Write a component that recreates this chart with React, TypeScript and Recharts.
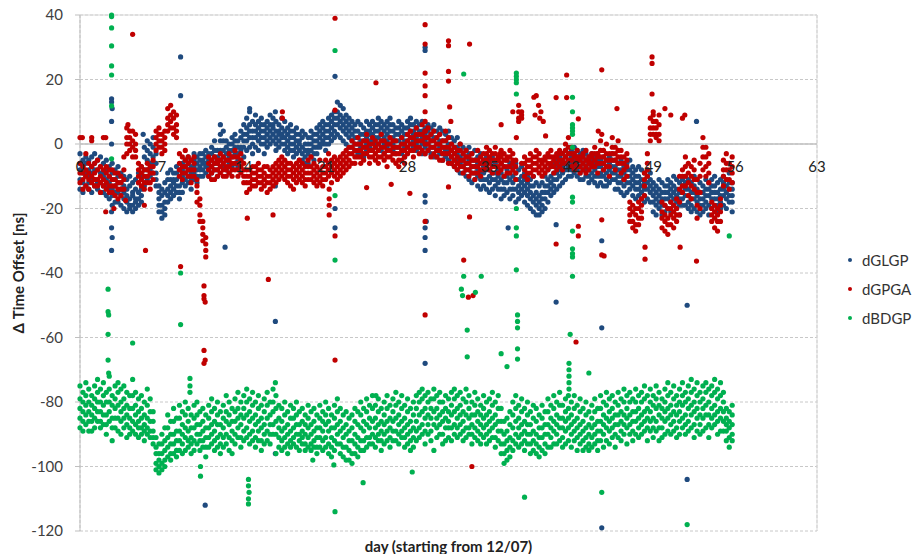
import React from "react";
import {
  ScatterChart,
  Scatter,
  XAxis,
  YAxis,
  CartesianGrid,
  ReferenceLine,
} from "recharts";

const FONT = "Lato, 'Open Sans', sans-serif";

const xTicks = [0, 7, 14, 21, 28, 35, 42, 49, 56, 63];
const yTicks = [-120, -100, -80, -60, -40, -20, 0, 20, 40];
const seriesNames = ["dGLGP", "dGPGA", "dBDGP"];
const seriesColors = ["#1f4a7e", "#c00000", "#00b050"];

// dGLGP: [day, values...], quarter-day steps
const glgpRows = [
  [0, -3, -6, -8, -11, -14], [0.25, -5, -7, -9, -12, -15], [0.5, -4, -6, -9, -10, -13], [0.75, -5, -8, -10, -12, -14],
  [1, -4, -7, -9, -11, -15], [1.25, -3, -6, -8, -11, -13], [1.5, -5, -8, -11, -12, -14], [1.75, -4, -7, -9, -12, -15],
  [2, -6, -9, -10, -13, -15], [2.25, -5, -8, -11, -13, -16], [2.5, -7, -10, -12, -14, -17], [2.75, -6, -9, -11, -14, -16],
  [3, -8, -11, -13, -15, -18], [3.25, -7, -10, -12, -15, -18], [3.5, -9, -12, -14, -16, -19], [3.75, -10, -13, -15, -17, -20],
  [4, -11, -14, -16, -18, -21], [4.25, -10, -13, -17, -19, -20], [4.5, -12, -15, -16, -19, -21], [4.75, -11, -14, -17, -18, -20],
  [5, -9, -12, -15, -17, -19], [5.25, -7, -10, -14, -16, -18], [5.5, -1, -4, -8, -10, -13], [5.75, 1, -2, -5, -8, -11],
  [6, 0, -3, -6, -8, -10], [6.25, 2, -1, -4, -6, -9], [6.5, -3, -6, -9, -11, -13], [6.75, -13, -15, -17, -19, -21],
  [7, -14, -16, -19, -21, -23], [7.25, -12, -15, -18, -20, -22], [7.5, -9, -11, -14, -16, -18], [7.75, -8, -11, -13, -15, -17],
  [8, -9, -11, -12, -14, -16], [8.25, -7, -9, -11, -13, -15], [8.5, -8, -10, -13, -15, -17], [8.75, -6, -8, -10, -12, -15],
  [9, -5, -7, -9, -11, -13], [9.25, -4, -6, -8, -10, -12], [9.5, -5, -7, -9, -11, -14], [9.75, -3, -5, -7, -9, -11],
  [10, -4, -6, -8, -10, -12], [10.25, -3, -5, -7, -8, -10], [10.5, -3, -5, -6, -8, -10], [10.75, -2, -4, -6, -7, -9],
  [11, -3, -5, -7, -8, -10], [11.25, -1, -3, -5, -7, -9], [11.5, 1, -2, -4, -6, -8], [11.75, -2, -4, -6, -8, -10],
  [12, 6, 3, 1, -2, -5], [12.25, 4, 1, -2, -4, -7], [12.5, 1, -1, -3, -5, -8], [12.75, 0, -2, -4, -6, -9],
  [13, 2, 0, -2, -4, -7], [13.25, 3, 1, -1, -3, -6], [13.5, 1, -1, -3, -5, -7], [13.75, 4, 2, -1, -2, -5],
  [14, 6, 3, 1, -1, -4], [14.25, 8, 5, 3, 1, -2], [14.5, 10, 6, 4, 2, -1], [14.75, 7, 4, 2, 0, -3],
  [15, 9, 6, 4, 2, -1], [15.25, 7, 5, 3, 1, -2], [15.5, 8, 6, 4, 2, 0], [15.75, 6, 4, 2, 0, -3],
  [16, 7, 5, 3, 1, -1], [16.25, 9, 6, 4, 2, 0], [16.5, 8, 6, 5, 3, 1], [16.75, 7, 4, 2, 0, -2],
  [17, 6, 4, 3, 1, -1], [17.25, 8, 5, 3, 2, 0], [17.5, 7, 4, 2, 0, -2], [17.75, 5, 3, 1, -1, -3],
  [18, 6, 4, 2, 0, -2], [18.25, 4, 2, 0, -2, -4], [18.5, 5, 3, 1, -1, -3], [18.75, 3, 1, 0, -2, -5],
  [19, 4, 2, -1, -3, -5], [19.25, 3, 0, -2, -4, -6], [19.5, 2, 0, -2, -3, -6], [19.75, 4, 2, 0, -2, -4],
  [20, 3, 1, -1, -3, -5], [20.25, 5, 3, 1, -1, -3], [20.5, 6, 4, 2, 0, -1], [20.75, 7, 5, 3, 1, 0],
  [21, 6, 4, 2, 0, -2], [21.25, 8, 6, 4, 2, 0], [21.5, 9, 7, 5, 3, 1], [21.75, 10, 8, 6, 4, 2],
  [22, 13, 10, 8, 6, 3], [22.25, 12, 9, 7, 5, 2], [22.5, 11, 8, 6, 4, 1], [22.75, 9, 7, 5, 3, 0],
  [23, 8, 6, 4, 2, -1], [23.25, 7, 5, 3, 1, -1], [23.5, 6, 4, 2, 0, -2], [23.75, 7, 4, 2, 0, -3],
  [24, 6, 3, 1, -1, -3], [24.25, 5, 3, 1, -1, -4], [24.5, 7, 4, 2, 0, -2], [24.75, 6, 4, 3, 1, -1],
  [25, 7, 5, 3, 1, -2], [25.25, 6, 4, 2, 0, -1], [25.5, 8, 6, 4, 2, 0], [25.75, 7, 5, 3, 1, -2],
  [26, 6, 4, 2, 0, -3], [26.25, 7, 5, 3, 1, -1], [26.5, 8, 6, 4, 2, 0], [26.75, 6, 4, 2, 0, -2],
  [27, 5, 3, 1, -1, -3], [27.25, 7, 5, 3, 1, -1], [27.5, 6, 4, 2, 0, -3], [27.75, 5, 3, 1, -1, -4],
  [28, 7, 5, 3, 1, -1], [28.25, 8, 6, 4, 2, 0], [28.5, 6, 4, 3, 1, -1], [28.75, 7, 5, 2, 0, -2],
  [29, 6, 4, 3, 1, -1], [29.25, 7, 4, 2, 0, -3], [29.5, 5, 3, 1, -1, -3], [29.75, 6, 4, 2, 0, -2],
  [30, 5, 3, 1, -1, -3], [30.25, 6, 4, 2, -1, -4], [30.5, 4, 2, 0, -2, -4], [30.75, 5, 3, 1, -1, -3],
  [31, 4, 1, -1, -3, -5], [31.25, 3, 1, -1, -2, -4], [31.5, 4, 2, 0, -2, -5], [31.75, 2, 0, -2, -4, -6],
  [32, 1, -1, -3, -5, -7], [32.25, 2, -1, -3, -5, -8], [32.5, 0, -2, -4, -6, -9], [32.75, -1, -3, -5, -7, -9],
  [33, -2, -4, -6, -8, -10], [33.25, -1, -3, -5, -8, -11], [33.5, -3, -5, -7, -9, -12], [33.75, -2, -5, -7, -9, -11],
  [34, -4, -6, -8, -10, -13], [34.25, -3, -6, -9, -11, -14], [34.5, -5, -7, -9, -11, -13], [34.75, -4, -6, -8, -11, -14],
  [35, -5, -8, -10, -12, -15], [35.25, -4, -7, -9, -11, -14], [35.5, -6, -9, -11, -13, -16], [35.75, -5, -8, -10, -12, -14],
  [36, -6, -9, -11, -14, -17], [36.25, -7, -10, -12, -14, -16], [36.5, -5, -8, -10, -12, -15], [36.75, -6, -9, -11, -14, -17],
  [37, -7, -10, -12, -14, -16], [37.25, -6, -9, -11, -14, -18], [37.5, -8, -11, -13, -15, -17], [37.75, -7, -10, -12, -14, -16],
  [38, -9, -11, -13, -15, -18], [38.25, -10, -12, -14, -16, -19], [38.5, -11, -13, -15, -17, -20], [38.75, -10, -13, -16, -18, -21],
  [39, -12, -15, -17, -19, -22], [39.25, -13, -16, -18, -20, -22], [39.5, -12, -15, -17, -19, -21], [39.75, -10, -13, -15, -17, -20],
  [40, -8, -11, -13, -15, -18], [40.25, -7, -10, -12, -14, -16], [40.5, -6, -9, -11, -13, -15], [40.75, -5, -7, -9, -11, -14],
  [41, -4, -6, -8, -10, -13], [41.25, -3, -5, -7, -9, -12], [41.5, -2, -4, -6, -8, -11], [41.75, -3, -5, -7, -8, -10],
  [42, -2, -4, -6, -8, -10], [42.25, -1, -3, -5, -7, -9], [42.5, -2, -4, -6, -8, -10], [42.75, -3, -5, -7, -9, -11],
  [43, -2, -4, -6, -8, -11], [43.25, -3, -5, -7, -8, -10], [43.5, -4, -6, -8, -10, -12], [43.75, -3, -5, -7, -9, -11],
  [44, -4, -6, -8, -10, -12], [44.25, -3, -5, -7, -10, -13], [44.5, -5, -7, -9, -10, -12], [44.75, -4, -6, -8, -10, -13],
  [45, -5, -7, -9, -11, -13], [45.25, -4, -6, -8, -10, -12], [45.5, -3, -5, -7, -9, -11], [45.75, -5, -7, -9, -11, -14],
  [46, -6, -8, -10, -12, -14], [46.25, -5, -8, -10, -12, -15], [46.5, -7, -9, -11, -13, -16], [46.75, -6, -8, -10, -12, -15],
  [47, -5, -8, -10, -12, -14], [47.25, -7, -9, -11, -13, -16], [47.5, -8, -10, -12, -14, -17], [47.75, -7, -10, -12, -14, -16],
  [48, -8, -11, -13, -15, -17], [48.25, -9, -12, -14, -16, -18], [48.5, -8, -10, -12, -14, -17], [48.75, -9, -11, -13, -15, -18],
  [49, -12, -14, -16, -18, -21], [49.25, -13, -15, -17, -19, -22], [49.5, -11, -14, -16, -18, -20], [49.75, -12, -15, -17, -19, -22],
  [50, -13, -15, -17, -19, -21], [50.25, -11, -13, -15, -17, -20], [50.5, -12, -14, -16, -18, -21], [50.75, -10, -13, -15, -17, -19],
  [51, -11, -14, -16, -18, -20], [51.25, -12, -15, -17, -19, -22], [51.5, -11, -13, -15, -17, -19], [51.75, -10, -12, -14, -16, -19],
  [52, -11, -14, -16, -18, -20], [52.25, -12, -15, -17, -19, -21], [52.5, -10, -13, -15, -17, -20], [52.75, -11, -14, -16, -18, -21],
  [53, -12, -15, -17, -19, -22], [53.25, -13, -15, -17, -19, -21], [53.5, -11, -14, -16, -18, -20], [53.75, -12, -14, -16, -19, -22],
  [54, -11, -13, -15, -17, -20], [54.25, -10, -13, -15, -17, -19], [54.5, -12, -15, -17, -19, -21], [54.75, -11, -14, -16, -18, -20],
  [55, -10, -12, -14, -16, -19], [55.25, -11, -13, -15, -17, -20], [55.5, -9, -12, -14, -16, -18], [55.75, -12, -14, -16, -18, -21],
];
const glgpOutliers = [
  [2.7, 14], [2.7, 13], [2.75, 11], [2.7, 7], [2.7, 0], [2.75, -19], [2.7, -21], [2.7, -26],
  [2.75, -29], [2.7, -33], [5.4, 3], [8.6, 27], [8.6, 15], [12.4, -32], [14.5, 11], [16.7, 10],
  [16.7, -13], [10.7, -112], [16.7, -55], [16.7, -96], [21.8, 21], [21.8, -20], [21.8, -26],
  [29.5, 29], [29.5, 30], [29.5, -16], [29.5, -18], [29.6, -24], [29.5, -26], [29.5, -29],
  [29.5, -33], [29.5, -68], [36.6, -26], [40.7, -25], [40.7, -49], [44.6, -30], [44.6, -57],
  [44.6, -119], [51.9, -50], [51.9, -104], [52.7, 7],
];

// dGPGA
const gpgaRows = [
  [0, 2, -6, -9, -12], [0.25, -7, -9, -11, -14], [0.5, -3, -8, -10, -13], [0.75, -6, -9, -11, -14],
  [1, 1, -7, -10, -12], [1.25, -6, -9, -11, -13], [1.5, -5, -8, -11, -13], [1.75, -7, -10, -12, -15],
  [2, 2, -8, -11, -13], [2.25, -7, -9, -12, -14], [2.5, -8, -10, -13, -15], [2.75, -8, -11, -13, -15],
  [3, -9, -11, -13, -16], [3.25, -9, -12, -14, -17], [3.5, -10, -12, -14, -16], [3.75, -4, -8, -11, -14],
  [4, 5, 2, 0, -3], [4.25, 4, 2, 0, -2], [4.5, 4, 1, -1, -4], [4.75, 3, 0, -2, -4],
  [5, -6, -8, -10, -12], [5.25, -7, -9, -11, -13], [5.5, -8, -10, -12, -14], [5.75, -6, -8, -10, -12],
  [6, -7, -9, -12, -14], [6.25, -5, -7, -9, -11], [6.5, 4, 2, 0, -2], [6.75, 5, 3, 1, -1],
  [7, 3, 1, -1, -3], [7.25, 4, 2, 0, -2], [7.5, 11, 8, 6, 4], [7.75, 12, 9, 7, 5],
  [8, 10, 8, 5, 3], [8.25, 9, 6, 4, 2], [8.5, -3, -6, -8, -10], [8.75, -4, -7, -9, -11],
  [9, -2, -5, -7, -9], [9.25, -4, -6, -8, -10], [9.5, -5, -8, -10, -12], [9.75, -4, -6, -8, -10],
  [10, -11, -13, -15, -18], [10.25, -17, -19, -22, -24], [10.5, -24, -26, -28, -30], [10.75, -29, -31, -33, -35],
  [11, -4, -6, -8, -10], [11.25, -5, -7, -9, -11], [11.5, -4, -6, -8, -11], [11.75, -5, -6, -8, -10],
  [12, -3, -5, -7, -9], [12.25, -4, -6, -8, -10], [12.5, -5, -7, -8, -10], [12.75, -3, -5, -7, -9],
  [13, -4, -6, -8, -10], [13.25, -2, -4, -6, -8], [13.5, -4, -6, -8, -10], [13.75, -3, -5, -7, -9],
  [14, -6, -8, -10, -12], [14.25, -8, -10, -12, -15], [14.5, -8, -10, -12, -14], [14.75, -7, -9, -11, -13],
  [15, -7, -9, -11, -13], [15.25, -6, -8, -10, -12], [15.5, -8, -10, -12, -14], [15.75, -7, -9, -11, -13],
  [16, -7, -10, -12, -15], [16.25, -8, -10, -12, -14], [16.5, -7, -9, -11, -13], [16.75, -6, -8, -10, -12],
  [17, -5, -7, -9, -11], [17.25, -4, -6, -8, -10], [17.5, -5, -7, -9, -11], [17.75, -6, -8, -10, -12],
  [18, -6, -8, -10, -13], [18.25, -7, -9, -11, -14], [18.5, -6, -8, -10, -12], [18.75, -5, -7, -9, -11],
  [19, -6, -8, -10, -12], [19.25, -7, -9, -11, -13], [19.5, -5, -7, -9, -11], [19.75, -4, -7, -9, -11],
  [20, -6, -8, -10, -12], [20.25, -7, -9, -11, -13], [20.5, -5, -8, -10, -12], [20.75, -7, -9, -11, -13],
  [21, -5, -7, -9, -11], [21.25, -3, -6, -8, -10], [21.5, -5, -7, -9, -12], [21.75, -4, -6, -8, -10],
  [22, -5, -7, -9, -11], [22.25, -4, -6, -8, -10], [22.5, -3, -5, -7, -9], [22.75, -2, -4, -6, -8],
  [23, -1, -3, -5, -7], [23.25, 1, -1, -3, -6], [23.5, 0, -2, -4, -6], [23.75, 2, 0, -2, -4],
  [24, 0, -2, -4, -6], [24.25, 1, -1, -3, -5], [24.5, 3, 1, -1, -3], [24.75, 0, -2, -4, -6],
  [25, 2, 0, -2, -4], [25.25, 1, -1, -3, -5], [25.5, 0, -2, -4, -6], [25.75, 3, 1, -1, -4],
  [26, 1, -1, -3, -5], [26.25, 0, -2, -4, -7], [26.5, 2, 0, -2, -4], [26.75, 1, -1, -3, -5],
  [27, 1, -1, -3, -6], [27.25, -1, -3, -5, -7], [27.5, 2, 0, -2, -5], [27.75, 0, -2, -4, -6],
  [28, 3, 1, -1, -3], [28.25, 4, 2, 0, -2], [28.5, 2, 0, -2, -4], [28.75, 5, 3, 1, -1],
  [29, 3, 1, -1, -3], [29.25, 6, 3, 1, -2], [29.5, 4, 2, 0, -3], [29.75, 5, 2, 0, -2],
  [30, 3, 1, -1, -4], [30.25, 4, 1, -1, -3], [30.5, 2, 0, -2, -4], [30.75, 3, 0, -2, -5],
  [31, 1, -1, -3, -5], [31.25, 4, 1, -1, -3], [31.5, 2, -1, -3, -6], [31.75, 0, -2, -4, -6],
  [32, -1, -3, -5, -7], [32.25, -2, -4, -6, -8], [32.5, 0, -2, -5, -7], [32.75, -3, -5, -7, -9],
  [33, -2, -4, -6, -8], [33.25, -4, -6, -8, -10], [33.5, -3, -5, -7, -9], [33.75, -5, -7, -9, -11],
  [34, -2, -5, -7, -9], [34.25, -4, -6, -8, -10], [34.5, -3, -5, -6, -8], [34.75, -1, -3, -5, -7],
  [35, -2, -4, -6, -8], [35.25, -3, -5, -7, -9], [35.5, -1, -3, -5, -7], [35.75, -4, -5, -7, -9],
  [36, -2, -4, -6, -8], [36.25, -3, -5, -7, -10], [36.5, -4, -5, -7, -9], [36.75, -2, -4, -7, -9],
  [37, -3, -5, -6, -8], [37.25, -5, -7, -9, -11], [37.5, 12, 10, 8, 7], [37.75, 10, 9, 8, -6],
  [38, -4, -6, -8, -10], [38.25, -5, -7, -9, -11], [38.5, -3, -5, -7, -9], [38.75, -4, -6, -8, -10],
  [39, -2, -4, -6, -8], [39.25, -3, -5, -7, -9], [39.5, -5, -6, -8, -10], [39.75, -4, -5, -7, -9],
  [40, -3, -4, -6, -8], [40.25, -2, -4, -6, -7], [40.5, -4, -5, -7, -9], [40.75, -3, -4, -6, -8],
  [41, -2, -3, -5, -7], [41.25, -3, -5, -6, -8], [41.5, 0, -2, -4, -6], [41.75, 2, -1, -3, -5],
  [42, -1, -3, -5, -7], [42.25, -3, -4, -6, -8], [42.5, -2, -4, -5, -7], [42.75, -4, -5, -7, -9],
  [43, -3, -4, -6, -8], [43.25, -2, -5, -7, -9], [43.5, -4, -5, -6, -8], [43.75, -3, -4, -6, -7],
  [44, -1, -3, -5, -7], [44.25, -3, -4, -6, -9], [44.5, 1, -2, -4, -6], [44.75, -2, -4, -6, -8],
  [45, 0, -3, -5, -7], [45.25, -3, -5, -7, -10], [45.5, 2, -1, -3, -5], [45.75, -1, -3, -5, -8],
  [46, 1, -2, -4, -6], [46.25, -2, -4, -6, -9], [46.5, -4, -6, -8, -11], [46.75, -3, -5, -7, -10],
  [47, -18, -20, -22, -24], [47.25, -19, -21, -24, -26], [47.5, -20, -22, -25, -27], [47.75, -18, -20, -23, -25],
  [48, -17, -19, -21, -23], [48.25, -9, -11, -13, -16], [48.5, -3, -6, -8, -10], [48.75, 8, 5, 3, 1],
  [49, 10, 7, 5, 3], [49.25, 7, 5, 3, 2], [49.5, 9, 6, 3, 1], [49.75, -18, -21, -23, -26],
  [50, -19, -22, -24, -27], [50.25, -20, -23, -25, -28], [50.5, -18, -20, -22, -25], [50.75, -19, -21, -23, -26],
  [51, -17, -20, -22, -24], [51.25, -10, -14, -18, -22], [51.5, -8, -10, -13, -15], [51.75, -4, -7, -10, -13],
  [52, -6, -9, -12, -16], [52.25, -7, -10, -13, -17], [52.5, -5, -8, -11, -14], [52.75, -11, -15, -19, -23],
  [53, -6, -10, -15, -20], [53.25, 2, -1, -4, -8], [53.5, -1, -4, -7, -10], [53.75, -3, -6, -9, -12],
  [54, -18, -20, -22, -24], [54.25, -19, -21, -23, -26], [54.5, -20, -22, -24, -27], [54.75, -17, -19, -21, -24],
  [55, -5, -8, -10, -13], [55.25, -3, -6, -8, -11], [55.5, -6, -8, -11, -14], [55.75, -4, -7, -9, -12],
];
const gpgaOutliers = [
  [0.2, 2], [1, 2], [2.2, 2], [4.1, 6], [2.2, -21], [2.9, -20], [4.5, 34], [5.6, -33],
  [5.5, -19], [3.9, -17.5], [14.3, -23], [16.5, -22], [17.3, 10], [17.3, 8], [10.6, -44],
  [10.6, -47], [10.6, -48], [10.7, -49], [10.6, -64], [10.6, -68], [10.7, -67], [16.1, -42],
  [8.6, -38], [21.8, 39], [21.8, 10.5], [21.8, -28.5], [21.8, -67], [21.3, -14], [21.3, -17],
  [21.3, -19], [21.3, -22], [29.5, 37], [29.5, 31], [29.5, 22], [29.5, 18], [29.5, 15],
  [29.5, 10], [29.5, 7], [29.5, 4], [29.5, -24], [29.5, -53], [31.5, 32], [31.5, 30.5],
  [31.5, 22.5], [31.5, 19.5], [31.6, 11.5], [31.7, 7], [33.3, 31], [25.3, 19], [26.6, -12.5],
  [28.2, -15.3], [24.5, -13.5], [32.8, -36], [33.2, -47.5], [33.6, -47], [33.5, -100],
  [33.3, -22.6], [31.5, -13.3], [36, 6], [37, 10], [38.8, 14.5], [39, 15], [39.2, 12],
  [39.4, 10], [38.9, 9], [39.3, 8], [39.6, 7], [39.8, 2.5], [37.3, 2], [40.7, 14.4],
  [41.6, 21.4], [41.6, 14.4], [42.6, 7.8], [42.4, -61.4], [42.6, -25.5], [42.6, -28.5],
  [40.7, -31], [44.6, 23], [44.6, -23.5], [44.6, -34.4], [44.6, 3], [44.3, 4], [45.9, 11],
  [44.8, -34.7], [48.9, 27], [48.9, 25], [48.9, 15.5], [49, 9], [50, 11], [50.5, 9],
  [48.3, -32], [48.3, -35.7], [51.3, -32], [52.7, -36.3], [51.5, 8], [51.7, 9], [35.9, -3],
];

// dBDGP
const bdgpRows = [
  [0, -75, -79, -82, -85, -88], [0.25, -77, -80, -83, -86, -89], [0.5, -74, -78, -81, -84, -87], [0.75, -76, -80, -83, -86, -89],
  [1, -78, -81, -84, -86, -89], [1.25, -75, -79, -82, -85, -88], [1.5, -73, -77, -80, -83, -86], [1.75, -76, -80, -83, -86, -88],
  [2, -74, -78, -81, -84, -87], [2.25, -77, -80, -84, -87, -90], [2.5, -72, -76, -80, -83, -86], [2.75, -78, -81, -85, -88, -92],
  [3, -75, -79, -82, -85, -88], [3.25, -74, -77, -81, -85, -89], [3.5, -76, -80, -83, -86, -90], [3.75, -75, -79, -82, -85, -88],
  [4, -77, -81, -84, -87, -91], [4.25, -78, -82, -85, -88, -90], [4.5, -73, -78, -82, -86, -89], [4.75, -77, -81, -84, -87, -90],
  [5, -79, -83, -86, -88, -91], [5.25, -78, -82, -85, -88, -90], [5.5, -80, -84, -87, -89, -92], [5.75, -76, -81, -85, -88, -90],
  [6, -79, -83, -86, -89, -91], [6.25, -83, -86, -89, -91, -93], [6.5, -91, -94, -96, -99, -101], [6.75, -93, -96, -98, -100, -102],
  [7, -90, -93, -96, -99, -101], [7.25, -88, -92, -95, -98, -100], [7.5, -84, -88, -91, -94, -97], [7.75, -86, -90, -93, -96, -98],
  [8, -82, -86, -90, -93, -96], [8.25, -85, -89, -92, -95, -97], [8.5, -81, -85, -89, -92, -95], [8.75, -83, -87, -90, -93, -96],
  [9, -80, -84, -88, -91, -95], [9.25, -82, -86, -89, -92, -94], [9.5, -84, -88, -91, -93, -96], [9.75, -81, -85, -88, -92, -95],
  [10, -80, -84, -87, -90, -93], [10.25, -83, -87, -90, -92, -95], [10.5, -82, -86, -89, -92, -94], [10.75, -84, -88, -91, -94, -97],
  [11, -81, -85, -88, -91, -94], [11.25, -79, -83, -87, -90, -93], [11.5, -82, -86, -89, -92, -95], [11.75, -80, -84, -87, -91, -94],
  [12, -83, -87, -90, -93, -96], [12.25, -81, -85, -88, -91, -94], [12.5, -78, -83, -86, -90, -93], [12.75, -80, -84, -87, -91, -95],
  [13, -82, -86, -89, -92, -96], [13.25, -79, -83, -86, -90, -93], [13.5, -77, -82, -85, -88, -91], [13.75, -80, -84, -87, -91, -94],
  [14, -78, -82, -85, -89, -92], [14.25, -76, -80, -84, -88, -91], [14.5, -79, -83, -86, -90, -93], [14.75, -77, -81, -85, -89, -92],
  [15, -80, -84, -87, -91, -94], [15.25, -78, -82, -86, -89, -92], [15.5, -81, -85, -88, -92, -95], [15.75, -79, -83, -87, -90, -93],
  [16, -77, -81, -85, -89, -92], [16.25, -80, -84, -87, -90, -93], [16.5, -76, -80, -83, -87, -90], [16.75, -78, -82, -86, -90, -96],
  [17, -81, -85, -88, -91, -94], [17.25, -82, -86, -89, -92, -95], [17.5, -80, -84, -88, -91, -94], [17.75, -83, -87, -90, -93, -96],
  [18, -81, -85, -89, -92, -94], [18.25, -82, -85, -88, -91, -93], [18.5, -80, -84, -87, -90, -94], [18.75, -83, -87, -90, -92, -95],
  [19, -82, -86, -89, -91, -93], [19.25, -84, -87, -90, -93, -95], [19.5, -81, -85, -88, -91, -94], [19.75, -83, -87, -90, -93, -95],
  [20, -82, -86, -89, -92, -94], [20.25, -84, -88, -91, -94, -96], [20.5, -81, -85, -88, -91, -94], [20.75, -83, -86, -89, -92, -95],
  [21, -80, -84, -87, -91, -94], [21.25, -82, -86, -89, -93, -96], [21.5, -84, -88, -91, -94, -97], [21.75, -81, -85, -88, -92, -95],
  [22, -79, -83, -87, -90, -93], [22.25, -82, -86, -89, -93, -96], [22.5, -84, -88, -91, -94, -97], [22.75, -83, -87, -90, -94, -98],
  [23, -85, -89, -92, -95, -98], [23.25, -84, -88, -92, -96, -99], [23.5, -82, -86, -90, -93, -96], [23.75, -83, -87, -91, -94, -97],
  [24, -80, -84, -88, -92, -95], [24.25, -82, -86, -89, -92, -95], [24.5, -79, -83, -87, -91, -94], [24.75, -81, -85, -88, -91, -93],
  [25, -78, -82, -86, -90, -93], [25.25, -81, -85, -88, -91, -94], [25.5, -79, -83, -87, -90, -92], [25.75, -82, -86, -89, -92, -95],
  [26, -80, -84, -87, -90, -93], [26.25, -78, -82, -86, -89, -92], [26.5, -81, -85, -88, -91, -94], [26.75, -79, -83, -86, -89, -92],
  [27, -77, -81, -85, -89, -92], [27.25, -80, -84, -87, -90, -93], [27.5, -78, -82, -86, -89, -91], [27.75, -81, -85, -88, -91, -94],
  [28, -79, -83, -87, -90, -93], [28.25, -82, -86, -89, -92, -95], [28.5, -80, -84, -88, -91, -94], [28.75, -78, -82, -86, -89, -92],
  [29, -77, -80, -84, -88, -91], [29.25, -76, -79, -83, -87, -90], [29.5, -78, -82, -85, -89, -93], [29.75, -77, -80, -84, -87, -90],
  [30, -79, -82, -85, -89, -92], [30.25, -76, -79, -83, -87, -95], [30.5, -78, -82, -85, -88, -91], [30.75, -77, -80, -84, -87, -90],
  [31, -80, -83, -86, -90, -93], [31.25, -78, -82, -85, -88, -92], [31.5, -79, -83, -86, -88, -91], [31.75, -77, -81, -84, -88, -92],
  [32, -76, -79, -83, -87, -90], [32.25, -78, -82, -85, -88, -91], [32.5, -77, -81, -84, -87, -90], [32.75, -79, -83, -86, -89, -92],
  [33, -76, -80, -84, -88, -91], [33.25, -78, -82, -85, -88, -90], [33.5, -80, -84, -87, -90, -93], [33.75, -77, -81, -84, -88, -91],
  [34, -79, -83, -86, -89, -92], [34.25, -81, -84, -87, -90, -93], [34.5, -78, -82, -85, -88, -91], [34.75, -80, -84, -87, -90, -93],
  [35, -79, -83, -86, -89, -92], [35.25, -77, -81, -85, -88, -91], [35.5, -80, -84, -87, -91, -94], [35.75, -78, -82, -86, -89, -92],
  [36, -82, -86, -89, -93, -96], [36.25, -86, -90, -93, -96, -99], [36.5, -85, -89, -92, -95, -98], [36.75, -83, -87, -91, -94, -97],
  [37, -80, -84, -88, -92, -95], [37.25, -78, -82, -86, -90, -93], [37.5, -81, -85, -88, -91, -94], [37.75, -79, -83, -87, -90, -93],
  [38, -82, -86, -89, -92, -95], [38.25, -80, -84, -87, -90, -93], [38.5, -83, -87, -90, -93, -96], [38.75, -81, -85, -89, -92, -95],
  [39, -82, -86, -90, -93, -96], [39.25, -84, -88, -91, -94, -97], [39.5, -81, -85, -88, -91, -95], [39.75, -83, -87, -90, -93, -96],
  [40, -79, -83, -87, -90, -94], [40.25, -81, -85, -88, -91, -94], [40.5, -78, -82, -86, -89, -93], [40.75, -80, -84, -87, -90, -93],
  [41, -77, -81, -85, -88, -92], [41.25, -81, -85, -88, -91, -94], [41.5, -79, -83, -86, -89, -93], [41.75, -78, -82, -85, -88, -92],
  [42, -80, -84, -87, -90, -94], [42.25, -78, -82, -86, -89, -92], [42.5, -81, -85, -88, -91, -95], [42.75, -79, -83, -87, -90, -93],
  [43, -82, -86, -89, -92, -95], [43.25, -80, -84, -88, -91, -94], [43.5, -83, -87, -90, -93, -95], [43.75, -81, -85, -88, -91, -94],
  [44, -79, -83, -87, -90, -93], [44.25, -82, -86, -89, -92, -95], [44.5, -78, -82, -86, -89, -92], [44.75, -80, -84, -87, -90, -94],
  [45, -77, -81, -85, -88, -92], [45.25, -79, -83, -86, -89, -93], [45.5, -78, -82, -85, -88, -91], [45.75, -80, -84, -87, -90, -94],
  [46, -77, -81, -84, -87, -91], [46.25, -79, -83, -86, -89, -92], [46.5, -76, -80, -84, -87, -90], [46.75, -78, -82, -85, -88, -93],
  [47, -77, -80, -84, -87, -90], [47.25, -79, -83, -86, -89, -92], [47.5, -76, -80, -83, -86, -90], [47.75, -78, -82, -85, -88, -91],
  [48, -77, -80, -84, -87, -90], [48.25, -75, -79, -83, -86, -89], [48.5, -78, -82, -85, -88, -92], [48.75, -76, -80, -83, -86, -89],
  [49, -78, -81, -85, -88, -91], [49.25, -75, -79, -82, -86, -89], [49.5, -77, -81, -84, -88, -92], [49.75, -79, -82, -85, -88, -91],
  [50, -76, -80, -83, -86, -90], [50.25, -74, -78, -82, -85, -89], [50.5, -77, -81, -84, -87, -90], [50.75, -75, -79, -83, -86, -89],
  [51, -78, -81, -84, -88, -91], [51.25, -76, -80, -83, -86, -90], [51.5, -74, -78, -81, -85, -88], [51.75, -77, -80, -84, -87, -90],
  [52, -75, -79, -82, -86, -89], [52.25, -73, -77, -81, -84, -88], [52.5, -76, -80, -83, -87, -91], [52.75, -74, -78, -82, -85, -89],
  [53, -77, -80, -84, -87, -90], [53.25, -75, -79, -82, -85, -89], [53.5, -74, -77, -81, -84, -88], [53.75, -76, -80, -84, -87, -91],
  [54, -75, -78, -82, -85, -88], [54.25, -73, -77, -81, -84, -87], [54.5, -76, -79, -83, -86, -90], [54.75, -74, -78, -82, -85, -89],
  [55, -77, -80, -83, -86, -89], [55.25, -82, -85, -87, -89, -92], [55.5, -83, -86, -88, -91, -94], [55.75, -81, -84, -87, -90, -92],
];
const bdgpOutliers = [
  [2.7, 40], [2.7, 39.5], [2.7, 36], [2.7, 30.4], [2.7, 24.2], [2.7, 21.4], [2.7, 11.8], [2.7, -4.6],
  [2.4, -45], [2.4, -52], [2.45, -53], [2.4, -59], [2.4, -67], [2.45, -71], [4.5, -61.7], [8.6, -40],
  [8.6, -56], [9.4, -72.7], [9.4, -75], [9.4, -77], [14.4, -104], [14.4, -106], [14.45, -108],
  [14.4, -110], [14.4, -111.6], [16.7, -74], [21.8, 29], [21.8, -16], [21.8, -36], [21.8, -114],
  [21.7, -99.5], [19.9, -98], [24.2, -105], [25.3, -78], [28.4, -101.7], [32.8, 21.7], [32.8, -41],
  [32.6, -45], [32.7, -47], [33.1, -57.7], [33.1, -66], [33.8, -46], [34.3, -41], [36, -65],
  [36.5, -69], [37.3, 22], [37.3, 21], [37.3, 20], [37.3, 19], [37.3, 15.5], [37.3, -20], [37.3, -26],
  [37.3, -28.5], [37.3, -39], [37.4, -53], [37.4, -55], [37.4, -57], [37.4, -63.5], [37.4, -66.7],
  [38, -109.5], [42.1, 14.5], [42.1, 10], [42.1, 6], [42.1, 5], [42.1, 4], [42.1, 3], [42.1, -1],
  [42.1, -16.5], [42.1, -18], [42.1, -27], [42.1, -32.5], [42.1, -34], [42.1, -35], [42.1, -41],
  [41.9, -59], [41.8, -68], [41.8, -70], [41.8, -72], [41.8, -74], [41.8, -76], [44.6, -108],
  [51.9, -118], [55.5, -28.5], [43.5, -71], [10.3, -103], [10.3, -100],
];

const toPoints = (rows: number[][]) =>
  rows.flatMap(([day, ...vals]) => vals.map((v) => ({ day, offset: v })));

const seriesData = [
  toPoints([...glgpRows, ...glgpOutliers]),
  toPoints([...gpgaRows, ...gpgaOutliers]),
  toPoints([...bdgpRows, ...bdgpOutliers]),
];

// the x axis crosses at zero, so the day labels are placed on that line
const dayLabelPoints = xTicks.map((t) => ({ day: t, offset: 0 }));

const dotShape = (color: string) => (p: any) =>
  <circle cx={p.cx} cy={p.cy} r={2.6} fill={color} />;

const dayLabel = (p: any) => (
  <text
    x={p.cx}
    y={p.cy + 28}
    textAnchor="middle"
    fontSize={15}
    fontFamily={FONT}
    fill="#222"
  >
    {p.payload ? p.payload.day : p.day}
  </text>
);

export default function App() {
  return (
    <div
      style={{
        position: "absolute",
        left: 0,
        top: 0,
        width: 913,
        height: 554,
        background: "#fff",
        fontFamily: FONT,
      }}
    >
      <ScatterChart
        width={913}
        height={554}
        margin={{ top: 15, right: 96, bottom: 23, left: 0 }}
      >
        <CartesianGrid stroke="#c8c8c8" strokeDasharray="3 2" />
        <XAxis
          type="number"
          dataKey="day"
          domain={[0, 63]}
          ticks={xTicks}
          tick={false}
          tickLine={false}
          axisLine={{ stroke: "#d0d0d0" }}
          height={0}
        />
        <YAxis
          type="number"
          dataKey="offset"
          domain={[-120, 40]}
          ticks={yTicks}
          interval={0}
          width={80}
          tickSize={5}
          tickMargin={12}
          axisLine={{ stroke: "#bfbfbf" }}
          tickLine={{ stroke: "#bfbfbf" }}
          tick={{ fill: "#404040", fontSize: 15, fontFamily: FONT }}
        />
        <ReferenceLine y={40} stroke="#d9d9d9" />
        <ReferenceLine x={63} stroke="#d9d9d9" />
        <ReferenceLine y={0} stroke="#c0c0c0" strokeWidth={1.5} />
        {seriesData.map((d, i) => (
          <Scatter
            key={seriesNames[i]}
            name={seriesNames[i]}
            data={d}
            fill={seriesColors[i]}
            shape={dotShape(seriesColors[i])}
            isAnimationActive={false}
          />
        ))}
        <Scatter
          name="day labels"
          data={dayLabelPoints}
          shape={dayLabel}
          legendType="none"
          isAnimationActive={false}
        />
      </ScatterChart>

      <div
        style={{
          position: "absolute",
          left: 80,
          width: 737,
          top: 537,
          textAlign: "center",
          fontWeight: "bold",
          fontSize: 15,
          lineHeight: "18px",
          color: "#222",
        }}
      >
        day (starting from 12/07)
      </div>
      <div
        style={{
          position: "absolute",
          left: 18 - 150,
          top: 273 - 10,
          width: 300,
          height: 20,
          lineHeight: "20px",
          textAlign: "center",
          fontWeight: "bold",
          fontSize: 15,
          color: "#222",
          transform: "rotate(-90deg)",
        }}
      >
        Δ Time Offset [ns]
      </div>

      <div style={{ position: "absolute", left: 848, top: 245 }}>
        {seriesNames.map((n, i) => (
          <div
            key={n}
            style={{
              display: "flex",
              alignItems: "center",
              height: 29,
              fontSize: 15,
              color: "#333",
            }}
          >
            <span
              style={{
                width: 4,
                height: 4,
                borderRadius: 2,
                background: seriesColors[i],
                marginRight: 10,
              }}
            />
            {n}
          </div>
        ))}
      </div>
    </div>
  );
}
